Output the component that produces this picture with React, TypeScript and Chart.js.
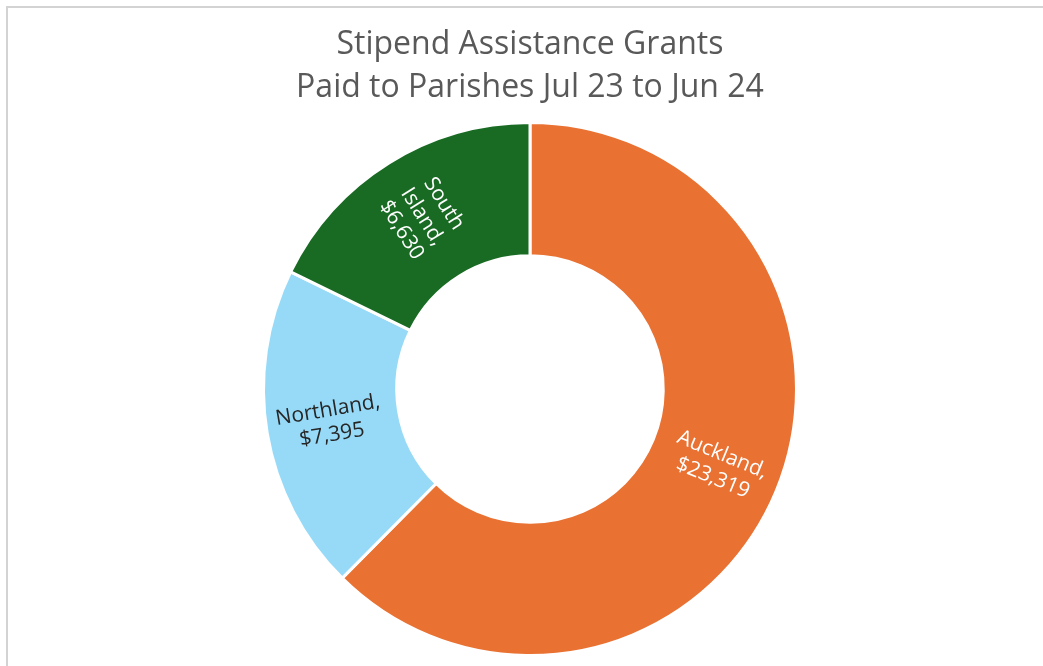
import React, { useEffect, useRef } from "react";
import { Chart, registerables } from "chart.js";

Chart.register(...registerables);

const titleLines = ["Stipend Assistance Grants", "Paid to Parishes Jul 23 to Jun 24"];
const regions = ["Auckland", "Northland", "South Island"];
const grants = [23319, 7395, 6630];
const sliceColors = ["#E97132", "#97DAF7", "#196B24"];
const labelColors = ["#FFFFFF", "#262626", "#FFFFFF"];
const labelLines = [["Auckland,", "$23,319"], ["Northland,", "$7,395"], ["South", "Island,", "$6,630"]];

const sliceLabels = {
  id: "sliceLabels",
  afterDatasetsDraw(chart: any) {
    const ctx = chart.ctx;
    const meta = chart.getDatasetMeta(0);
    meta.data.forEach((arc: any, i: number) => {
      const p = arc.getProps(["x", "y", "startAngle", "endAngle", "innerRadius", "outerRadius"], true);
      const mid = (p.startAngle + p.endAngle) / 2;
      const r = (p.innerRadius + p.outerRadius) / 2 + 3;
      const cx = p.x + Math.cos(mid) * r;
      const cy = p.y + Math.sin(mid) * r;
      let rot = mid;
      while (rot > Math.PI / 2) rot -= Math.PI;
      while (rot < -Math.PI / 2) rot += Math.PI;
      const lines = labelLines[i];
      const lh = 25;
      ctx.save();
      ctx.translate(cx, cy);
      ctx.rotate(rot);
      ctx.font = "21px 'Open Sans'";
      ctx.fillStyle = labelColors[i];
      ctx.textAlign = "center";
      ctx.textBaseline = "middle";
      lines.forEach((t: string, j: number) => {
        ctx.fillText(t, 0, (j - (lines.length - 1) / 2) * lh);
      });
      ctx.restore();
    });
  },
};

export default function App() {
  const ref = useRef<HTMLCanvasElement>(null);
  useEffect(() => {
    document.body.style.margin = "0";
    const chart = new Chart(ref.current!, {
      type: "doughnut",
      data: {
        labels: regions,
        datasets: [
          {
            data: grants,
            backgroundColor: sliceColors,
            borderColor: "#FFFFFF",
            borderWidth: 3,
          },
        ],
      },
      options: {
        responsive: false,
        animation: false,
        cutout: "50%",
        layout: { padding: { left: 17, bottom: 9, top: 0, right: 0 } },
        plugins: {
          legend: { display: false },
          tooltip: { enabled: false },
          title: {
            display: true,
            text: titleLines,
            color: "#595959",
            font: { family: "'Open Sans'", size: 32, weight: "normal", lineHeight: 1.344 },
            padding: { top: 23, bottom: 12 },
          },
        },
      },
      plugins: [sliceLabels],
    });
    return () => chart.destroy();
  }, []);
  return (
    <div style={{ position: "relative", width: 1043, height: 666, overflow: "hidden", background: "#fff" }}>
      <div
        style={{
          position: "absolute",
          left: 6,
          top: 6,
          width: 1100,
          height: 700,
          border: "2px solid #d3d3d3",
        }}
      />
      <canvas ref={ref} width={1043} height={666} style={{ position: "absolute", left: 0, top: 0 }} />
    </div>
  );
}
